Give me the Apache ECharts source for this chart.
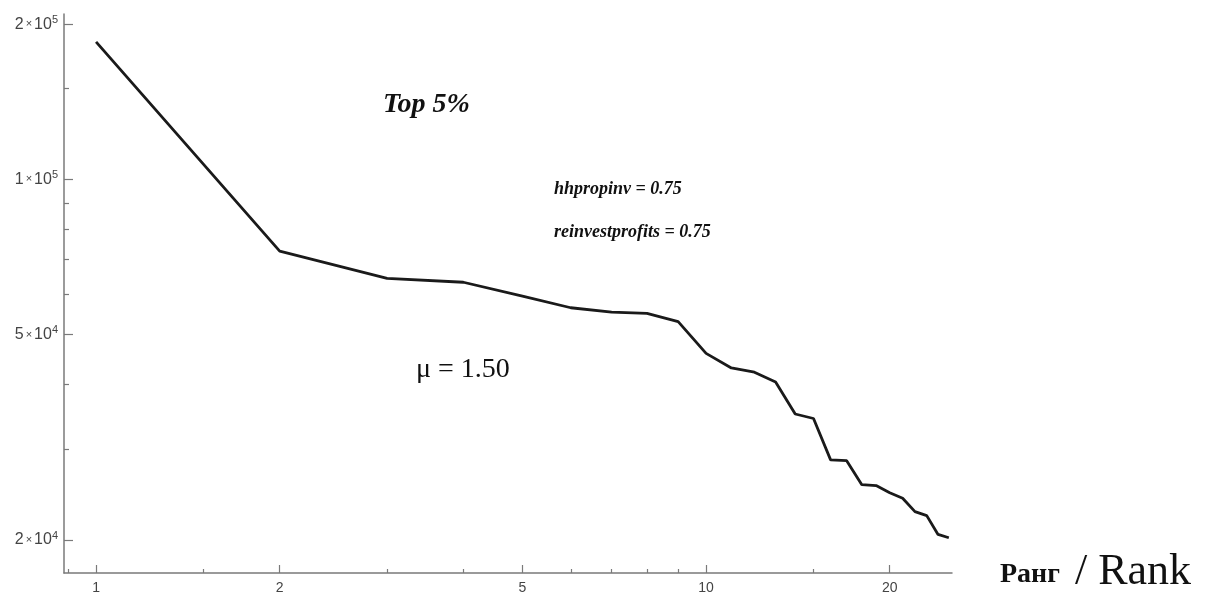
<!DOCTYPE html>
<html>
<head>
<meta charset="utf-8">
<script src="https://cdn.jsdelivr.net/npm/echarts@6/dist/echarts.min.js"></script>
<style>
  html, body { margin: 0; padding: 0; background: #fff; }
  #chart { width: 1212px; height: 596px; }
</style>
</head>
<body>
<div id="chart"></div>
<script>
// rank / wealth values (log-log)
var ranks = [1, 2, 3, 4, 5, 6, 7, 8, 9, 10, 11, 12, 13, 14, 15, 16, 17, 18, 19, 20, 21, 22, 23, 24, 25];
var wealth = [184800, 72600, 64300, 63200, 59400, 56400, 55300, 55000, 53000, 46000,
              43100, 42300, 40500, 35100, 34400, 28600, 28500, 25600, 25500, 24700,
              24100, 22700, 22300, 20500, 20200];

var xMajorTicks = [1, 2, 5, 10, 20];
var xMinorTicks = [0.9, 1.5, 3, 4, 6, 7, 8, 9, 15];
var yMajorTicks = [20000, 50000, 100000, 200000];
var yMinorTicks = [30000, 40000, 60000, 70000, 80000, 90000, 150000];

var dom = document.getElementById('chart');
var myChart = echarts.init(dom);

var axisColor = '#7a7a7a';
var labelColor = '#444';

function sciLabel(v) {
    var e = Math.floor(Math.log10(v) + 1e-9);
    var m = Math.round(v / Math.pow(10, e));
    return '{m|' + m + '}{x|×}{m|10}{s|' + e + '}';
}

var points = ranks.map(function (r, i) { return [r, wealth[i]]; });

var xBase = { type: 'log', logBase: 10, min: 0.886, max: 25.3, gridIndex: 0, position: 'bottom', splitLine: { show: false } };
var yBase = { type: 'log', logBase: 10, min: 17260, max: 209300, gridIndex: 0, position: 'left', splitLine: { show: false } };

option = {
    backgroundColor: '#fff',
    animation: false,
    grid: { left: 64, right: 260, top: 14, bottom: 23 },
    xAxis: [
        Object.assign({}, xBase, {
            axisLine: { show: true, lineStyle: { color: axisColor, width: 1.5 } },
            axisTick: { show: true, inside: true, length: 8, customValues: xMajorTicks,
                        lineStyle: { color: axisColor, width: 1.2 } },
            axisLabel: { show: true, customValues: xMajorTicks, margin: 8, color: labelColor,
                         fontFamily: 'Liberation Sans', fontSize: 14 }
        }),
        Object.assign({}, xBase, {
            axisLine: { show: false },
            axisTick: { show: true, inside: true, length: 4, customValues: xMinorTicks,
                        lineStyle: { color: axisColor, width: 1.2 } },
            axisLabel: { show: false }
        })
    ],
    yAxis: [
        Object.assign({}, yBase, {
            axisLine: { show: true, lineStyle: { color: axisColor, width: 1.5 } },
            axisTick: { show: true, inside: true, length: 9, customValues: yMajorTicks,
                        lineStyle: { color: axisColor, width: 1.2 } },
            axisLabel: {
                show: true, customValues: yMajorTicks, margin: 6, color: labelColor,
                fontSize: 16, fontFamily: 'Liberation Sans',
                formatter: sciLabel,
                rich: {
                    m: { fontFamily: 'Liberation Sans', fontSize: 16, color: labelColor, lineHeight: 20 },
                    x: { fontFamily: 'Liberation Sans', fontSize: 11, color: labelColor, lineHeight: 20, padding: [0, 2, 0, 2] },
                    s: { fontFamily: 'Liberation Sans', fontSize: 11, color: labelColor, verticalAlign: 'top', lineHeight: 13 }
                }
            }
        }),
        Object.assign({}, yBase, {
            axisLine: { show: false },
            axisTick: { show: true, inside: true, length: 5, customValues: yMinorTicks,
                        lineStyle: { color: axisColor, width: 1.2 } },
            axisLabel: { show: false }
        })
    ],
    series: [
        {
            type: 'line',
            xAxisIndex: 0,
            yAxisIndex: 0,
            data: points,
            showSymbol: false,
            lineStyle: { color: '#1a1a1a', width: 2.8 },
            silent: true
        }
    ],
    graphic: [
        { type: 'text', left: 383, top: 91,
          style: { text: 'Top 5%', font: 'italic bold 28px "Liberation Serif"', fill: '#111' } },
        { type: 'text', left: 554, top: 180,
          style: { text: 'hhpropinv = 0.75', font: 'italic bold 18px "Liberation Serif"', fill: '#111' } },
        { type: 'text', left: 554, top: 223,
          style: { text: 'reinvestprofits = 0.75', font: 'italic bold 18px "Liberation Serif"', fill: '#111' } },
        { type: 'text', left: 416, top: 356,
          style: { text: 'μ = 1.50', font: '28px "Liberation Serif"', fill: '#111' } },
        { type: 'text', left: 1000, top: 561,
          style: { text: 'Ранг', font: 'bold 28px "Liberation Serif"', fill: '#111' } },
        { type: 'text', left: 1075, top: 550,
          style: { text: '/ Rank', font: '44px "Liberation Serif"', fill: '#111' } }
    ]
};

if (option && typeof option === "object") {
    myChart.setOption(option, true);
}
</script>
</body>
</html>
